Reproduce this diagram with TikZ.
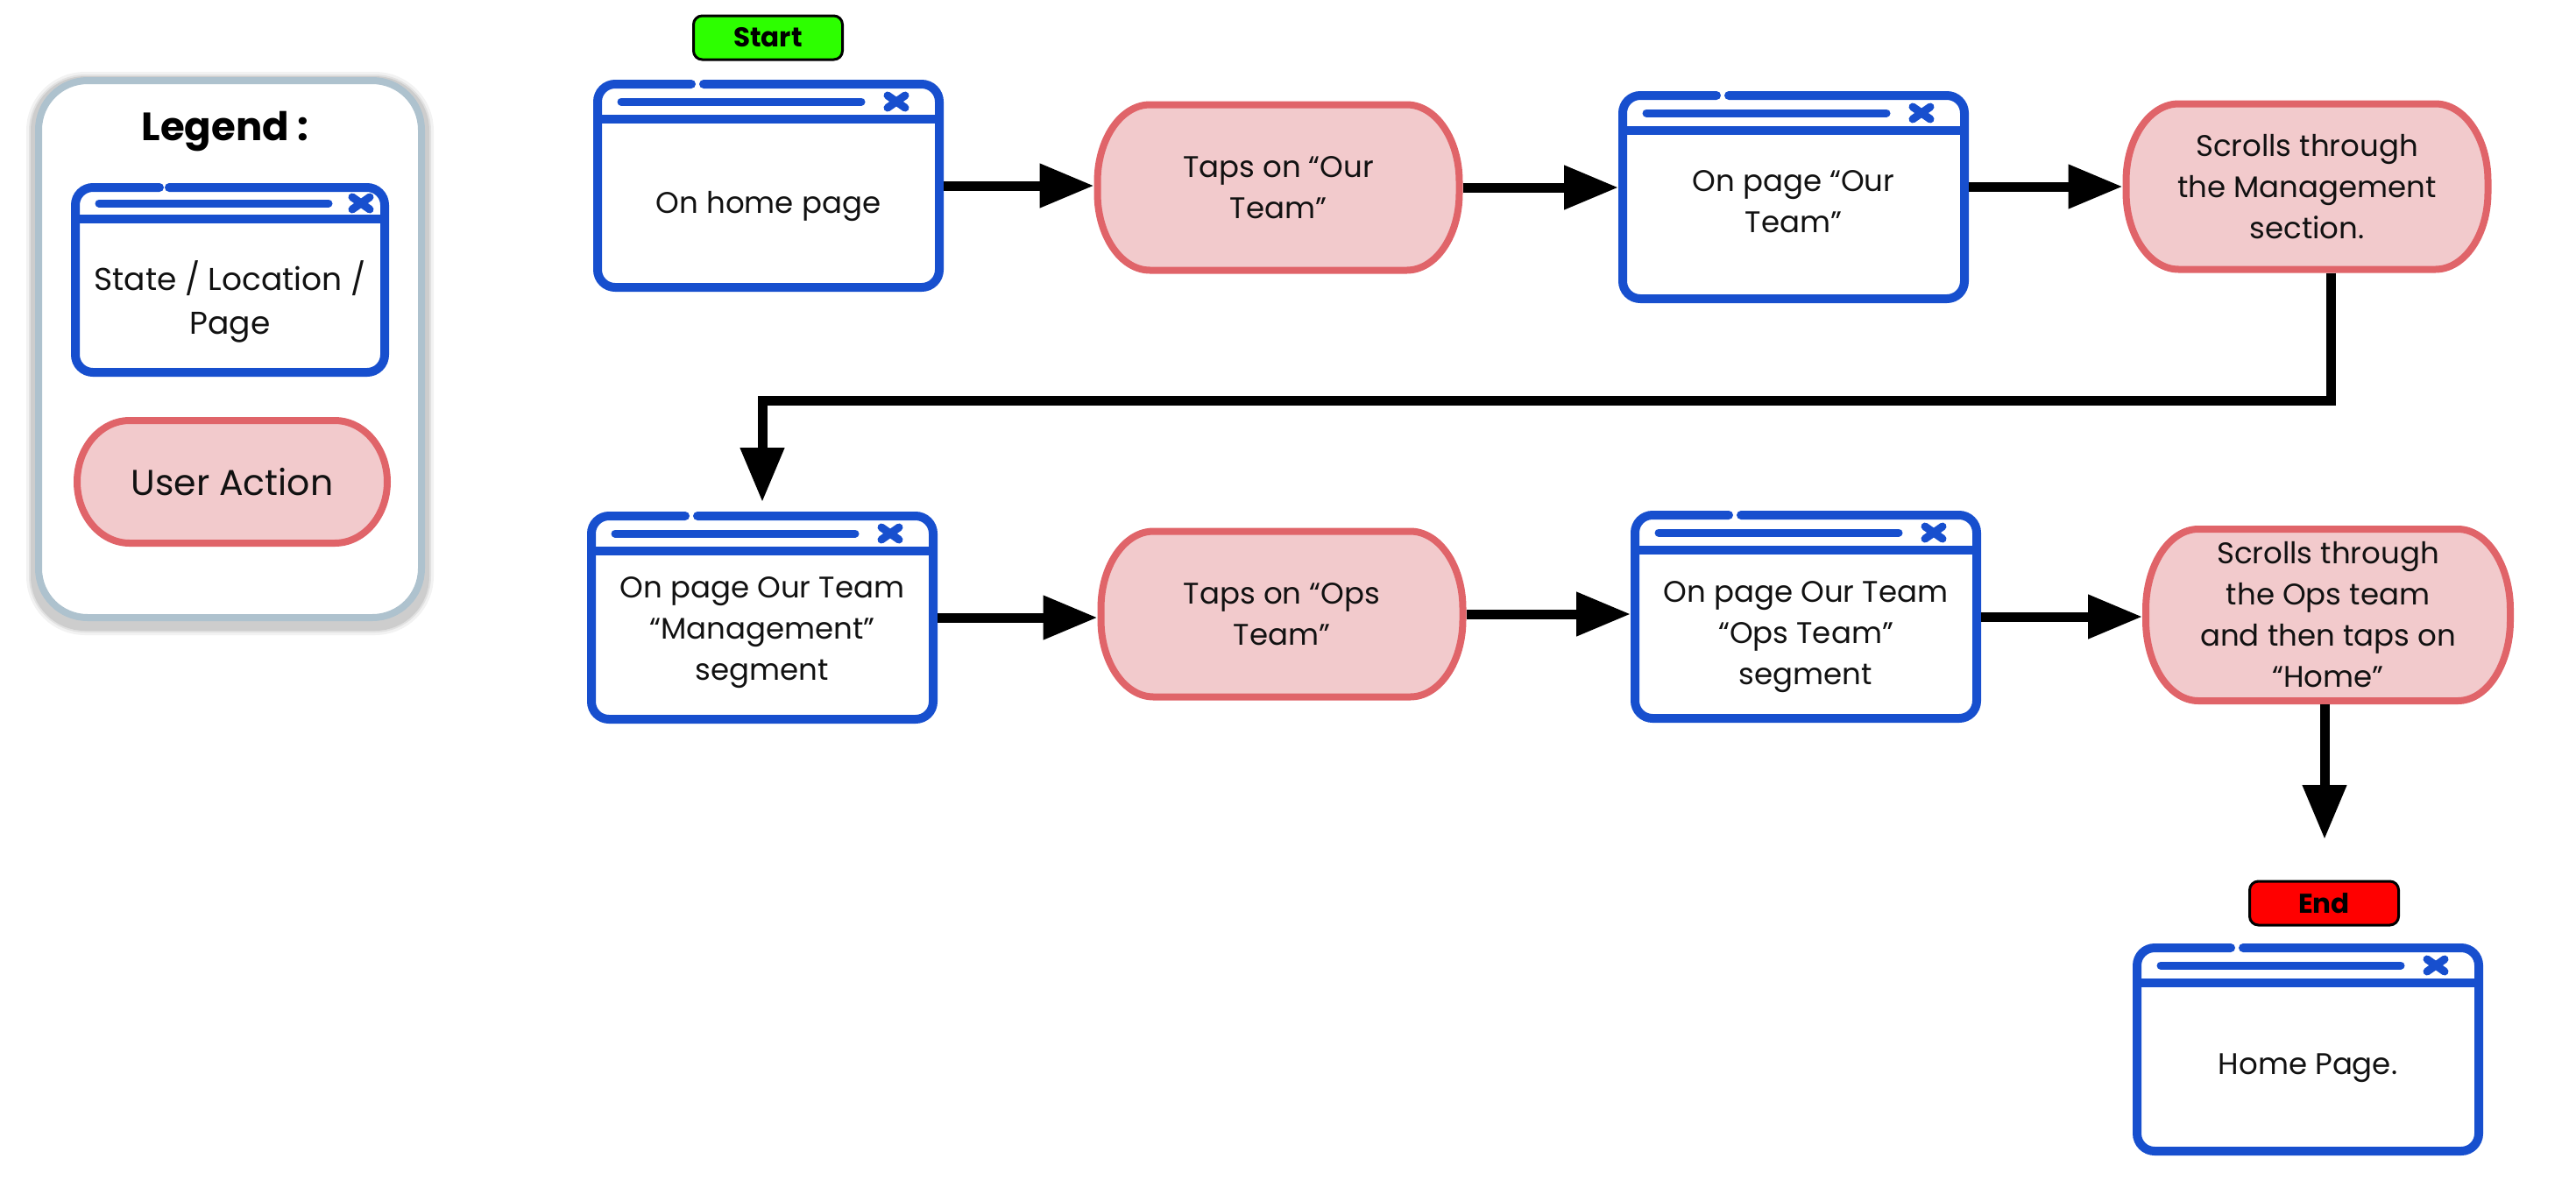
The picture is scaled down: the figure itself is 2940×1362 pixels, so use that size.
\documentclass[tikz,border=0pt]{standalone}
\usepackage{fontspec}
\setmainfont{Poppins}
\usetikzlibrary{arrows.meta,calc,backgrounds}
\definecolor{winblue}{HTML}{174FCE}
\definecolor{actfill}{HTML}{F2CACC}
\definecolor{actdraw}{HTML}{E06469}
\definecolor{legdraw}{HTML}{AEC2CE}
\definecolor{startgreen}{HTML}{2DFF00}
\definecolor{endred}{HTML}{FF0000}
\definecolor{txt}{HTML}{111111}

\tikzset{
  winnode/.style={rectangle, draw=none, minimum width=200pt, minimum height=121pt, inner sep=0pt, outer sep=0pt},
  winline/.style={draw=winblue, line width=5pt, line cap=round, line join=round},
  wintext/.style={align=center, font=\fontsize{17}{23.5}\selectfont, text=txt, inner sep=0pt},
  actnode/.style={rectangle, draw=none, minimum width=210.5pt, minimum height=98.5pt, inner sep=0pt, outer sep=0pt, align=center, font=\fontsize{17}{23.5}\selectfont, text=txt},
  tagbox/.style={rectangle, rounded corners=5pt, draw=black, line width=1.5pt, minimum width=85pt, minimum height=25pt, inner sep=0pt, font=\fontsize{15.5}{18}\selectfont\bfseries, text=black},
  flow/.style={draw=black, line width=5.5pt, -{Triangle[length=31pt,width=24pt]}},
  legbox/.style={rectangle, rounded corners=28pt, draw=legdraw, line width=4pt, fill=white, minimum width=218.5pt, minimum height=306.5pt, inner sep=0pt},
}

% window decoration: #1 name, #2 gap left, #3 gap right, #4 title end offset, #5 x-mark offset, #6 title y, #7 separator y
\newcommand\winicon[7]{%
  \draw[winline, rounded corners=10pt] ($(#1.north west)+(#3,5)$) -- ($(#1.north east)+(-5,5)$) -- ($(#1.south east)+(-5,-5)$) -- ($(#1.south west)+(5,-5)$) -- ($(#1.north west)+(5,5)$) -- ($(#1.north west)+(#2,5)$);
  \draw[winline, line width=4.5pt] ($(#1.north west)+(32,#6)$) -- ($(#1.north east)+(-#4,#6)$);
  \draw[winline, line cap=butt] ($(#1.north west)+(5,#7)$) -- ($(#1.north east)+(-5,#7)$);
  \draw[winline, line width=4.5pt] ($(#1.north east)+(-#5,#6)+(-10,-7)$) -- ++(20,14);
  \draw[winline, line width=4.5pt] ($(#1.north east)+(-#5,#6)+(-10,7)$) -- ++(20,-14);
}
% action shape behind node: #1 name, #2 x radius, #3 y radius
\newcommand\actshape[3]{%
  \begin{scope}[on background layer]
  \filldraw[fill=actfill, draw=actdraw, line width=4pt]
    ($(#1.north west)+(2pt+#2,-2pt)$) -- ($(#1.north east)+(-2pt-#2,-2pt)$)
    arc[start angle=90,end angle=0,x radius=#2,y radius=#3]
    -- ($(#1.south east)+(-2pt,2pt+#3)$)
    arc[start angle=0,end angle=-90,x radius=#2,y radius=#3]
    -- ($(#1.south west)+(2pt+#2,2pt)$)
    arc[start angle=-90,end angle=-180,x radius=#2,y radius=#3]
    -- ($(#1.north west)+(2pt,-2pt-#3)$)
    arc[start angle=180,end angle=90,x radius=#2,y radius=#3] -- cycle;
  \end{scope}}

\begin{document}
\begin{tikzpicture}[x=0.5pt,y=-0.5pt]
\useasboundingbox (0,0) rectangle (2940,1362);

% ---------- legend ----------
\begin{scope}[on background layer]
\foreach \w/\o in {11pt/0.05,8pt/0.07,6pt/0.09}
  \draw[black, opacity=\o, line width=\w, rounded corners=28pt] (41,93) rectangle (484,714);
\node[legbox] (legend) at (262.5,398.5) {};
\end{scope}
\node[font=\fontsize{22.5}{26}\selectfont\bfseries, text=black, inner sep=0pt] (legtitle) at (257,150) {Legend :};
\node[winnode, minimum width=181.5pt, minimum height=110.5pt] (lwin) at (262.5,319.5) {};
\winicon{lwin}{101}{112}{69}{32}{23}{41}
\node[wintext, font=\fontsize{18}{25}\selectfont] (lwintext) at ($(lwin.center)+(0,25)$) {State / Location /\\Page};
\node[actnode, minimum width=181pt, minimum height=74pt, font=\fontsize{20.5}{25}\selectfont] (lact) at (265,550) {User Action};
\actshape{lact}{30pt}{35pt}

% ---------- tags ----------
\node[tagbox, fill=startgreen] (start) at (876.5,43) {Start};
\node[tagbox, fill=endred] (endtag) at (2652.5,1031) {End};

% ---------- row 1 ----------
\node[winnode] (b1) at (877,212) {};
\winicon{b1}{112}{126}{94}{54}{25}{45}
\node[wintext] (b1t) at ($(b1.center)+(0,23)$) {On home page};

\node[actnode] (a1) at (1459,214) {Taps on “Our\\Team”};
\actshape{a1}{30pt}{44pt}

\node[winnode] (b2) at (2047,225) {};
\winicon{b2}{112}{126}{94}{54}{25}{45}
\node[wintext] (b2t) at ($(b2.center)+(0,5)$) {On page “Our\\Team”};

\node[actnode] (a2) at (2633,213) {Scrolls through\\the Management\\section.};
\actshape{a2}{30pt}{44pt}

% ---------- row 2 ----------
\node[winnode] (b3) at (870,705) {};
\winicon{b3}{112}{126}{94}{54}{25}{45}
\node[wintext] (b3t) at ($(b3.center)+(0,17)$) {On page Our Team\\“Management”\\segment};

\node[actnode] (a3) at (1463,701) {Taps on “Ops\\Team”};
\actshape{a3}{30pt}{44pt}

\node[winnode] (b4) at (2061,704) {};
\winicon{b4}{112}{126}{94}{54}{25}{45}
\node[wintext] (b4t) at ($(b4.center)+(0,23)$) {On page Our Team\\“Ops Team”\\segment};

\node[actnode, minimum width=212pt, minimum height=102pt] (a4) at (2657,702) {Scrolls through\\the Ops team\\and then taps on\\“Home”};
\actshape{a4}{30pt}{46pt}

% ---------- end page ----------
\node[winnode] (b5) at (2634,1198) {};
\winicon{b5}{112}{126}{94}{54}{25}{45}
\node[wintext] (b5t) at ($(b5.center)+(0,21)$) {Home Page.};

% ---------- connectors ----------
\draw[flow] (b1.east) -- (b1.east -| a1.west);
\draw[flow] (a1.east) -- (a1.east -| b2.west);
\draw[flow] (b2.east |- a2.west) -- (a2.west);
\draw[flow, shorten >=5.5pt] ($(a2.south)+(27,0)$) -- ++(0,146) -| (b3.north);
\draw[flow] (b3.east) -- (b3.east -| a3.west);
\draw[flow] (a3.east) -- (a3.east -| b4.west);
\draw[flow] (b4.east) -- (b4.east -| a4.west);
\coordinate (endarrow) at (2653,958);
\draw[flow] (a4.south -| endarrow) -- (endarrow);
\end{tikzpicture}
\end{document}
